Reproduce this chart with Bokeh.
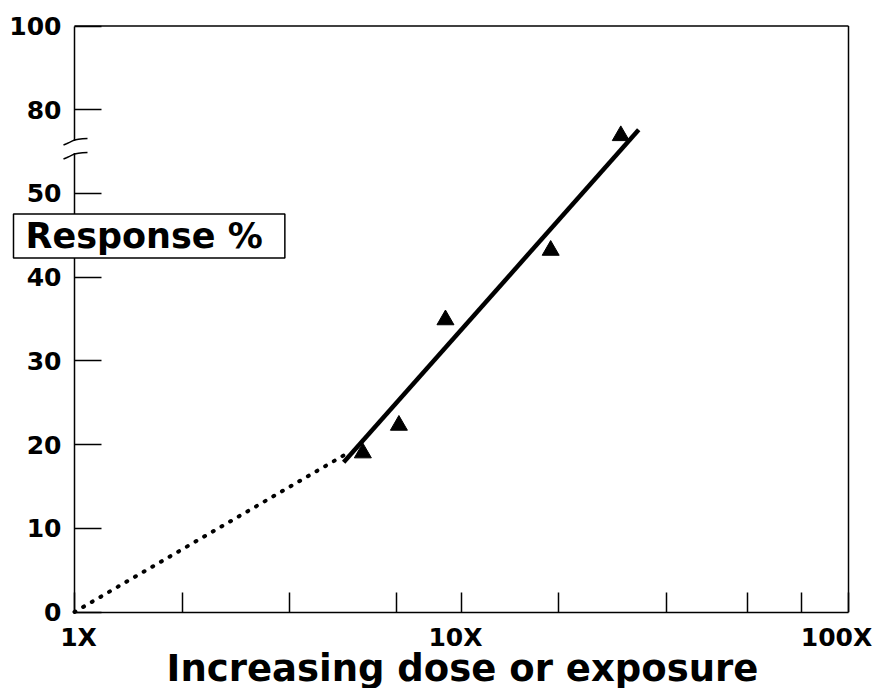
import numpy as np
from bokeh.plotting import figure
from bokeh.models import Range1d, FixedTicker, Label, BoxAnnotation, PolyAnnotation
from bokeh.embed import file_html
from bokeh.resources import INLINE

# ---- data ----
dose = [5.56, 6.89, 9.09, 17.0, 25.8]
response = [19.0, 22.3, 34.9, 43.2, 70.7]
fit_dose = [4.96, 28.7]
fit_response = [17.9, 72.8]
extrap_dose = [1.0, 5.0]
extrap_response = [0.0, 18.8]

y_tick_values = [0, 10, 20, 30, 40, 50, 80, 100]
y_tick_labels = ["0", "10", "20", "30", "40", "50", "80", "100"]
x_tick_values = [1, 1.9, 3.6, 6.8, 10, 17.8, 33.8, 54.7, 75.4, 100]
x_label_values = [1, 10, 100]
x_label_texts = ["1X", "10X", "100X"]
x_title = "Increasing dose or exposure"
y_title = "Response %"

FONT = "DejaVu Sans"

# ---- layout constants (pixels) ----
W, H = 875, 688
AX_LEFT_PX = 74.0       # where x = 1 sits
AX_BOTTOM_PX = 611.5    # where y = 0 sits
PX_PER_DECADE = 387.0
PX_PER_STEP = 83.71


def to_pos(v):
    """Broken y scale: 0-50 linear, 50->80 one step, 80->100 one step."""
    v = np.asarray(v, dtype=float)
    return np.where(v <= 50, v / 10.0,
                    np.where(v <= 80, 5 + (v - 50) / 30.0, 6 + (v - 80) / 20.0))


x_start = 10 ** (-AX_LEFT_PX / PX_PER_DECADE)
x_end = 10 ** ((W - AX_LEFT_PX) / PX_PER_DECADE)
y_end = AX_BOTTOM_PX / PX_PER_STEP
y_start = (AX_BOTTOM_PX - H) / PX_PER_STEP

p = figure(width=W, height=H, x_axis_type="log",
           x_range=Range1d(x_start, x_end), y_range=Range1d(y_start, y_end),
           output_backend="svg", toolbar_location=None,
           min_border_left=0, min_border_right=0,
           min_border_top=0, min_border_bottom=0)

p.xgrid.visible = False
p.ygrid.visible = False
p.outline_line_color = None
p.background_fill_color = "white"
p.border_fill_color = "white"

# x axis (fixed at y = 0)
p.xaxis.fixed_location = 0
p.xaxis.bounds = (1, 100)
p.xaxis.ticker = FixedTicker(ticks=x_tick_values, minor_ticks=[])
p.xaxis.major_label_overrides = {v: "" for v in x_tick_values}
p.xaxis.major_tick_in = 20
p.xaxis.major_tick_out = 0
p.xaxis.minor_tick_in = 0
p.xaxis.minor_tick_out = 0
p.xaxis.axis_line_width = 1.5
p.xaxis.axis_line_color = "black"
p.xaxis.major_tick_line_width = 1.5
p.xaxis.major_tick_line_color = "black"

# y axis (fixed at x = 1)
y_positions = [float(v) for v in to_pos(y_tick_values)]
p.yaxis.fixed_location = 1
p.yaxis.bounds = (0, float(to_pos(100)))
p.yaxis.ticker = FixedTicker(ticks=y_positions, minor_ticks=[])
p.yaxis.major_label_overrides = {pos: lab for pos, lab in zip(y_positions, y_tick_labels)}
p.yaxis.major_tick_in = 27
p.yaxis.major_tick_out = 0
p.yaxis.minor_tick_in = 0
p.yaxis.minor_tick_out = 0
p.yaxis.axis_line_width = 1.5
p.yaxis.axis_line_color = "black"
p.yaxis.major_tick_line_width = 1.5
p.yaxis.major_tick_line_color = "black"
p.yaxis.major_label_standoff = 13
p.yaxis.major_label_text_font = FONT
p.yaxis.major_label_text_font_style = "bold"
p.yaxis.major_label_text_font_size = "25px"
p.yaxis.major_label_text_color = "black"

# top and right border of the plot box
top = float(to_pos(100))
p.segment(x0=[1, 100], y0=[top, 0], x1=[100, 100], y1=[top, top],
          line_color="black", line_width=1.5)

# glyphs
p.line(extrap_dose, to_pos(extrap_response), line_width=4, line_color="black",
       line_dash="1 9", line_cap="round")
p.line(fit_dose, to_pos(fit_response), line_width=4.5, line_color="black")
p.scatter(dose, to_pos(response), marker="triangle", size=17,
          fill_color="black", line_color="black")


# axis break on the y axis
def ypos(page_y):
    return (AX_BOTTOM_PX - page_y) / PX_PER_STEP


def xdata(dx):
    return 10 ** (dx / PX_PER_DECADE)


gap = BoxAnnotation(left=xdata(-4), right=xdata(4),
                    bottom=ypos(152.5), top=ypos(140.5),
                    fill_color="white", fill_alpha=1.0, line_color=None, level="overlay")
p.add_layout(gap)

curve_dx = [-11, -8, -5, -2, 0, 4, 8, 13]
curve_dy = [5.0, 3.8, 2.4, 0.9, 0.0, -0.8, -1.2, -1.5]
for cy in (139.5, 153.5):
    xs = [xdata(dx) for dx in curve_dx]
    ys = [ypos(cy + dy) for dy in curve_dy]
    p.add_layout(PolyAnnotation(xs=xs + xs[::-1], ys=ys + ys[::-1],
                                fill_color=None, fill_alpha=0,
                                line_color="black", line_alpha=1.0, line_width=1.5,
                                level="overlay"))

# x tick labels
x_offsets = [4, -6, -12]
for v, lab, off in zip(x_label_values, x_label_texts, x_offsets):
    p.add_layout(Label(x=v, y=0, text=lab, x_offset=off, y_offset=-25,
                       text_align="center", text_baseline="alphabetic",
                       text_font=FONT, text_font_style="bold",
                       text_font_size="25px", text_color="black"))

# x title
p.add_layout(Label(x=10, y=0, text=x_title, x_offset=1, y_offset=-56,
                   text_align="center", text_baseline="alphabetic",
                   text_font=FONT, text_font_style="bold",
                   text_font_size="37px", text_color="black"))

# y title in a box (padding: left, right, top, bottom)
p.add_layout(Label(x=1, y=5, text=y_title, x_offset=-61, y_offset=-42.5,
                   text_align="left", text_baseline="middle",
                   text_font=FONT, text_font_style="bold",
                   text_font_size="35px", text_color="black",
                   background_fill_color="white", background_fill_alpha=1.0,
                   border_line_color="black", border_line_width=1.5,
                   padding=(12, 22, 2, 2), level="overlay"))

open("out.html", "w").write(file_html(p, INLINE))
